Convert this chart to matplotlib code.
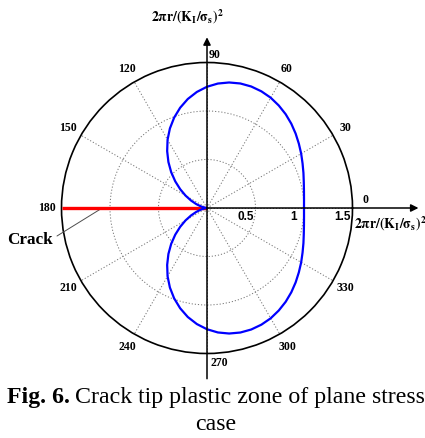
import numpy as np
import matplotlib
matplotlib.use("Agg")
import matplotlib.pyplot as plt

# Plastic zone boundary (degrees, normalised radius)
theta_deg = [0, 5, 10, 15, 20, 25, 30, 35, 40, 45, 50, 55, 60, 65, 70, 75, 80, 85,
             90, 95, 100, 105, 110, 115, 120, 125, 130, 135, 140, 145, 150, 155, 160,
             165, 170, 175, 180, 185, 190, 195, 200, 205, 210, 215, 220, 225, 230,
             235, 240, 245, 250, 255, 260, 265, 270, 275, 280, 285, 290, 295, 300,
             305, 310, 315, 320, 325, 330, 335, 340, 345, 350, 355, 360]
radius = [1.000, 1.004, 1.015, 1.033, 1.058, 1.087, 1.121, 1.156, 1.193, 1.229,
          1.262, 1.290, 1.313, 1.327, 1.333, 1.329, 1.314, 1.288, 1.250, 1.201,
          1.141, 1.070, 0.991, 0.905, 0.813, 0.716, 0.619, 0.522, 0.427, 0.337,
          0.255, 0.181, 0.118, 0.067, 0.030, 0.008, 0.000, 0.008, 0.030, 0.067,
          0.118, 0.181, 0.255, 0.337, 0.427, 0.522, 0.619, 0.716, 0.813, 0.905,
          0.991, 1.070, 1.141, 1.201, 1.250, 1.288, 1.314, 1.329, 1.333, 1.327,
          1.313, 1.290, 1.262, 1.229, 1.193, 1.156, 1.121, 1.087, 1.058, 1.033,
          1.015, 1.004, 1.000]
crack_theta_deg = [180, 180]
crack_r = [0.0, 1.5]
r_ticks = [0.5, 1.0]
r_tick_labels = ["0.5", "1", "1.5"]
r_tick_label_pos = [0.5, 1.0, 1.5]
angle_ticks = [0, 30, 60, 90, 120, 150, 180, 210, 240, 270, 300, 330]
axis_title = r"$\mathbf{2\pi r/(K_I/\sigma_s)^2}$"
caption_bold = "Fig. 6."
caption_rest = "Crack tip plastic zone of plane stress"
caption_line2 = "case"

plt.rcParams["mathtext.fontset"] = "stix"
serif = "Liberation Serif"

W, H = 425, 438
fig = plt.figure(figsize=(W / 100, H / 100), dpi=100)
cx, cy, R = 207, 208, 145.5
ax = fig.add_axes([(cx - R) / W, 1 - (cy + R) / H, 2 * R / W, 2 * R / H],
                  projection="polar")
ax.set_ylim(0, 1.5)
ax.set_thetagrids(angle_ticks, labels=[""] * len(angle_ticks))
ax.set_rgrids(r_ticks, labels=[""] * len(r_ticks))
ax.grid(True, linestyle=(0, (1.2, 2.0)), color="0.45", linewidth=0.7)
ax.spines["polar"].set_linewidth(1.2)
ax.spines["polar"].set_color("black")
ax.tick_params(length=0)

th = np.deg2rad(theta_deg)
ax.plot(np.deg2rad(crack_theta_deg), crack_r, color="red", lw=2.4, zorder=4,
        solid_capstyle="butt")
ax.plot(th, radius, color="#0000ff", lw=1.6, zorder=5)

# axis arrows
arrow = dict(arrowstyle="-|>", color="black", lw=1.1, mutation_scale=11,
             shrinkA=0, shrinkB=0)
ax.annotate("", xy=(np.pi / 2, 1.76), xytext=(3 * np.pi / 2, 1.76),
            arrowprops=arrow, annotation_clip=False, zorder=6)
ax.annotate("", xy=(0, 2.18), xytext=(0, 0.0),
            arrowprops=arrow, annotation_clip=False, zorder=6)

# angle labels
offsets = {0: (7, 8), 90: (8, 0), 270: (12, 0)}
for a in angle_ticks:
    rr = 1.65
    dx, dy = offsets.get(a, (0, 0))
    if a in (0, 90, 270):
        rr = {0: 1.56, 90: 1.58, 270: 1.60}[a]
    ax.annotate(str(a), xy=(np.deg2rad(a), rr), xytext=(dx, dy),
                textcoords="offset pixels", ha="center", va="center",
                fontsize=8.5, fontweight="bold", family=serif,
                annotation_clip=False)

# radial tick labels
for lab, rv in zip(r_tick_labels, r_tick_label_pos):
    ax.annotate(lab, xy=(0, rv), xytext=(-10, -9), textcoords="offset pixels",
                ha="center", va="center", fontsize=8.5, fontweight="bold",
                family="Liberation Sans", annotation_clip=False)

# axis titles
fig.text(187 / W, 1 - 17 / H, axis_title, ha="center", va="center", fontsize=9.8)
fig.text(390 / W, 1 - 224 / H, axis_title, ha="center", va="center", fontsize=9.8)

# crack label and leader
fig.text(30 / W, 1 - 240 / H, "Crack", ha="center", va="center",
         fontsize=12.3, fontweight="bold", family=serif)
ax.annotate("", xy=(np.pi, 1.08), xytext=(57 / W, 1 - 236 / H),
            textcoords="figure fraction",
            arrowprops=dict(arrowstyle="-", color="0.3", lw=0.7, shrinkA=0, shrinkB=0),
            annotation_clip=False)

# caption
fig.text(7 / W, 1 - 397 / H, caption_bold, ha="left", va="center",
         fontsize=17.2, fontweight="bold", family=serif)
fig.text(75 / W, 1 - 397 / H, caption_rest, ha="left", va="center",
         fontsize=17.2, family=serif)
fig.text(216 / W, 1 - 425 / H, caption_line2, ha="center", va="center",
         fontsize=17.2, family=serif)

fig.savefig("out.png", dpi=100)
